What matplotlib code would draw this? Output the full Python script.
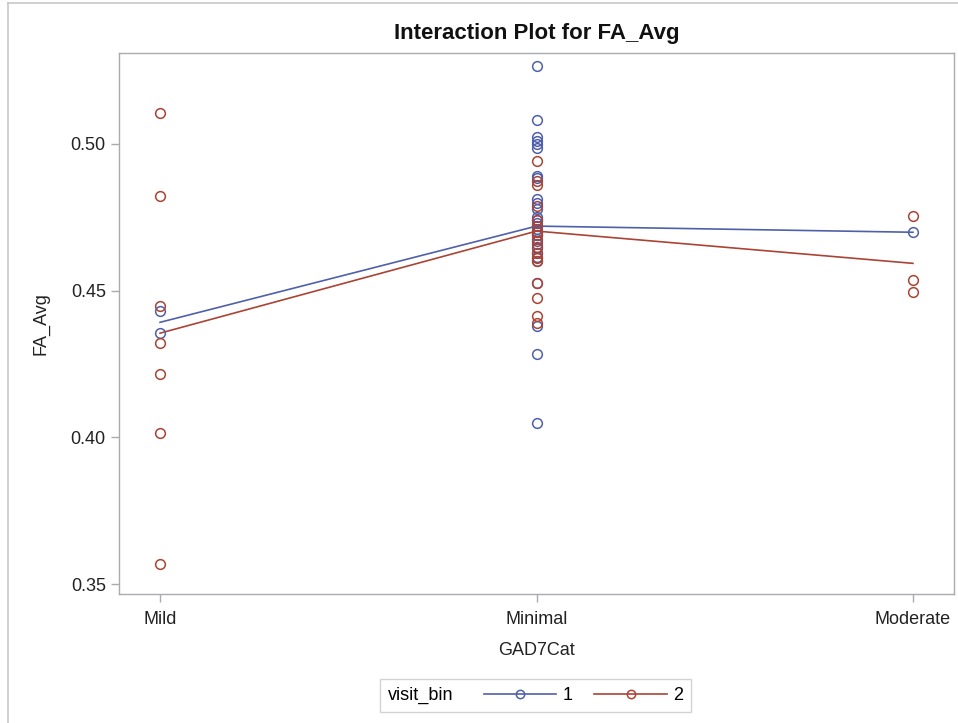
import matplotlib
matplotlib.use("Agg")
import matplotlib.pyplot as plt
from matplotlib.lines import Line2D
from matplotlib.offsetbox import HPacker

plt.rcParams['font.family'] = ['Liberation Sans', 'DejaVu Sans']

# ---- data ----
categories = ["Mild", "Minimal", "Moderate"]
visit_bins = ["1", "2"]

mild_v1 = [0.4430, 0.4357]
mild_v2 = [0.5105, 0.4822, 0.4448, 0.4320, 0.4216, 0.4016, 0.3568]

minimal_v1 = [0.5266, 0.5080, 0.5023, 0.5011, 0.4999, 0.4985, 0.4891, 0.4883,
              0.4811, 0.4798, 0.4777, 0.4750, 0.4740, 0.4730, 0.4720, 0.4710,
              0.4700, 0.4690, 0.4675, 0.4660, 0.4645, 0.4630, 0.4615, 0.4600,
              0.4525, 0.4379, 0.4283, 0.4048]
minimal_v2 = [0.4942, 0.4874, 0.4860, 0.4790, 0.4740, 0.4720, 0.4700, 0.4690,
              0.4670, 0.4650, 0.4630, 0.4610, 0.4600, 0.4525, 0.4474, 0.4414,
              0.4390]

moderate_v1 = [0.4699]
moderate_v2 = [0.4756, 0.4536, 0.4496]

mean_v1 = [0.4392, 0.4720, 0.4699]
mean_v2 = [0.4355, 0.4703, 0.4593]

yticks = [0.35, 0.40, 0.45, 0.50]

# ---- style ----
c1 = '#4F60AA'
c2 = '#AA4434'
frame_c = '#A9ABB0'
FS = 13

fig = plt.figure(figsize=(9.58, 7.23), dpi=100)
ax = fig.add_axes([119/958, 1-594/723, (954-119)/958, (594-53)/723])

points = {
    "1": [mild_v1, minimal_v1, moderate_v1],
    "2": [mild_v2, minimal_v2, moderate_v2],
}
colors = {"1": c1, "2": c2}
means = {"1": mean_v1, "2": mean_v2}

for vb in visit_bins:
    for i, vals in enumerate(points[vb]):
        ax.plot([i]*len(vals), vals, linestyle='none', marker='o', markersize=7,
                markerfacecolor='none', markeredgecolor=colors[vb],
                markeredgewidth=1.1, zorder=3)
    ax.plot(range(len(categories)), means[vb], color=colors[vb], lw=1.2, zorder=2)

ax.set_xlim(-0.109, 2.109)
ax.set_ylim(0.3466, 0.531)
ax.set_xticks(range(len(categories)))
ax.set_xticklabels(categories)
ax.set_yticks(yticks)
ax.set_yticklabels([f"{t:.2f}" for t in yticks])
ax.tick_params(axis='both', colors=frame_c, labelcolor='#222222', labelsize=FS,
               length=6, width=1, direction='out')
ax.tick_params(axis='x', pad=6)
for s in ax.spines.values():
    s.set_color(frame_c)
    s.set_linewidth(1)

ax.set_xlabel("GAD7Cat", fontsize=FS, color='#222222', labelpad=10)
ax.set_ylabel("FA_Avg", fontsize=FS, color='#222222', labelpad=15)
ax.set_title("Interaction Plot for FA_Avg", fontsize=16, fontweight='bold',
             color='#111111', pad=10)

# outer frame (left and top lines)
fig.add_artist(Line2D([8/958, 8/958], [0, 1-3/723], transform=fig.transFigure,
                      color='#C8C8C8', lw=1.2))
fig.add_artist(Line2D([8/958, 1], [1-3/723, 1-3/723], transform=fig.transFigure,
                      color='#C8C8C8', lw=1.2))

# legend
handles = [Line2D([], [], color=colors[vb], lw=1.2, marker='o', markersize=6,
                  markerfacecolor='none', markeredgecolor=colors[vb],
                  markeredgewidth=1.1) for vb in visit_bins]
leg = fig.legend(handles, visit_bins, title="visit_bin", ncol=2,
                 loc='center', bbox_to_anchor=(535.5/958, 1-695.5/723),
                 fontsize=FS, title_fontsize=FS, frameon=True, fancybox=False,
                 edgecolor='#C8C8C8', handlelength=4.0, handletextpad=0.35,
                 columnspacing=1.2, borderpad=0.45, borderaxespad=0)
leg.get_frame().set_linewidth(1)
fs = leg._fontsize
newbox = HPacker(pad=leg.borderpad * fs, sep=1.7 * fs, align='center',
                 children=[leg._legend_title_box, leg._legend_handle_box])
newbox.set_figure(fig)
newbox.set_offset(leg._findoffset)
leg._legend_box = newbox

fig.savefig("out.png", dpi=100)
